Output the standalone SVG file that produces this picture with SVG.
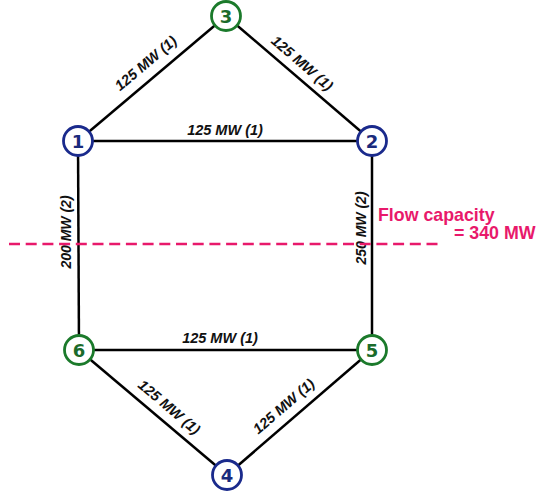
<svg xmlns="http://www.w3.org/2000/svg" width="536" height="497" viewBox="0 0 536 497">
<style>
.edge{stroke:#000;stroke-width:2.5;fill:none}
.lbl{font-family:"Liberation Sans",Arial,sans-serif;font-weight:bold;font-style:italic;font-size:14.5px;fill:#111;text-anchor:middle}
.vl{font-size:14px}
.nb circle{fill:#fff;stroke:#1a2a8c;stroke-width:2.8}
.ng circle{fill:#fff;stroke:#1b7a2b;stroke-width:2.8}
.nb text{fill:#1a2a7c}
.ng text{fill:#1b6b2b}
.num{font-family:"DejaVu Sans",Arial,sans-serif;font-weight:bold;font-size:18px;text-anchor:middle}
.cap{font-family:"Liberation Sans",Arial,sans-serif;font-weight:bold;font-size:17.8px;fill:#e8196b}
</style>
<rect width="536" height="497" fill="#fff"/>
<g id="connectors">
<line class="edge" x1="78" y1="141" x2="226" y2="16"/>
<line class="edge" x1="226" y1="16" x2="372" y2="141"/>
<line class="edge" x1="78" y1="141" x2="372" y2="141"/>
<line class="edge" x1="78" y1="141" x2="79" y2="350"/>
<line class="edge" x1="372" y1="141" x2="372" y2="350"/>
<line class="edge" x1="79" y1="350" x2="372" y2="350"/>
<line class="edge" x1="79" y1="350" x2="227" y2="475"/>
<line class="edge" x1="372" y1="350" x2="227" y2="475"/>
<text class="lbl" transform="translate(149,67) rotate(-40.2)">125 MW (1)</text>
<text class="lbl" transform="translate(299,67) rotate(40.6)">125 MW (1)</text>
<text class="lbl" x="225" y="135">125 MW (1)</text>
<text class="lbl vl" transform="translate(71,232) rotate(-90)">200 MW (2)</text>
<text class="lbl vl" transform="translate(366,228) rotate(-90)">250 MW (2)</text>
<text class="lbl" x="220" y="343">125 MW (1)</text>
<text class="lbl" transform="translate(166,411) rotate(40.2)">125 MW (1)</text>
<text class="lbl" transform="translate(287,410) rotate(-40.8)">125 MW (1)</text>
</g>
<g id="cut">
<line x1="9" y1="244" x2="440" y2="244" stroke="#e8196b" stroke-width="2.5" stroke-dasharray="11 5.7"/>
<text class="cap" x="378" y="221">Flow capacity</text>
<text class="cap" x="454" y="239">= 340 MW</text>
</g>
<g id="n3" class="ng"><circle cx="226" cy="16" r="14.5"/><text class="num" x="226" y="22.5">3</text></g>
<g id="n1" class="nb"><circle cx="78" cy="141" r="14.5"/><text class="num" x="78" y="147.5">1</text></g>
<g id="n2" class="nb"><circle cx="372" cy="141" r="14.5"/><text class="num" x="372" y="147.5">2</text></g>
<g id="n6" class="ng"><circle cx="79" cy="350" r="14.5"/><text class="num" x="79" y="356.5">6</text></g>
<g id="n5" class="ng"><circle cx="372" cy="350" r="14.5"/><text class="num" x="372" y="356.5">5</text></g>
<g id="n4" class="nb"><circle cx="227" cy="475" r="14.5"/><text class="num" x="227" y="481.5">4</text></g>
</svg>
